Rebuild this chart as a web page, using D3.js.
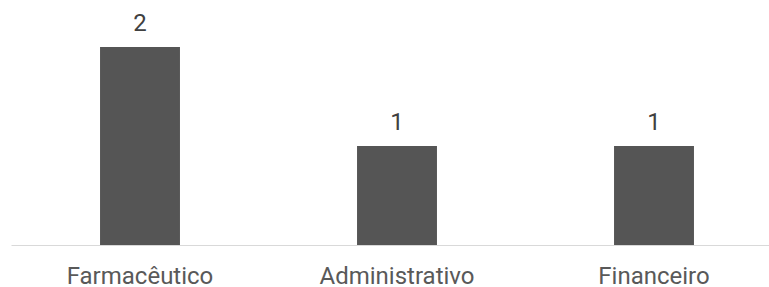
<!DOCTYPE html>
<html>
<head>
<meta charset="utf-8">
<script src="https://cdn.jsdelivr.net/npm/d3@7"></script>
<style>
  body { margin: 0; background: #fff; }
  svg { display: block; font-family: Roboto, sans-serif; }
</style>
</head>
<body>
<div id="chart"></div>
<script>
// data
var categories = ["Farmacêutico", "Administrativo", "Financeiro"];
var values = [2, 1, 1];

var width = 769, height = 287;

var svg = d3.select("#chart")
    .append("svg")
        .attr("width", width)
        .attr("height", height);

var x = d3.scaleBand()
    .domain(categories)
    .range([11.5, 782.5])
    .paddingInner(0.689)
    .paddingOuter(0.3445);

var y = d3.scaleLinear()
    .domain([0, 2])
    .range([245, 47]);

// bars
svg.append("g")
    .selectAll("rect")
    .data(values)
    .enter()
    .append("rect")
        .attr("x", function(d, i) { return x(categories[i]); })
        .attr("y", function(d) { return y(d); })
        .attr("width", x.bandwidth())
        .attr("height", function(d) { return y(0) - y(d); })
        .attr("fill", "#555555");

// baseline
svg.append("line")
    .attr("x1", 11.5)
    .attr("x2", width)
    .attr("y1", y(0) + 0.5)
    .attr("y2", y(0) + 0.5)
    .attr("stroke", "#d9d9d9")
    .attr("stroke-width", 1);

// value labels
svg.append("g")
    .selectAll("text")
    .data(values)
    .enter()
    .append("text")
        .attr("x", function(d, i) { return x(categories[i]) + x.bandwidth() / 2; })
        .attr("y", function(d) { return y(d) - 16.5; })
        .attr("text-anchor", "middle")
        .attr("font-size", "24px")
        .attr("fill", "#404040")
        .text(function(d) { return d; });

// category labels
svg.append("g")
    .selectAll("text")
    .data(categories)
    .enter()
    .append("text")
        .attr("x", function(d) { return x(d) + x.bandwidth() / 2; })
        .attr("y", 284)
        .attr("text-anchor", "middle")
        .attr("font-size", "24px")
        .attr("fill", "#595959")
        .text(function(d) { return d; });
</script>
</body>
</html>
